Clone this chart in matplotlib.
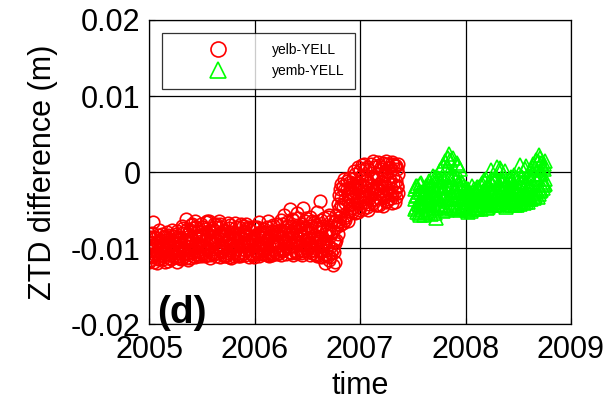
import numpy as np
import matplotlib
matplotlib.use("Agg")
import matplotlib.pyplot as plt

plt.rcParams['font.family'] = ['Liberation Sans', 'DejaVu Sans']

# yelb-YELL: epochs (decimal year) and three solutions per epoch (ZTD difference, mm)
yelb_t = [
    2005.000, 2005.012, 2005.024, 2005.036, 2005.048, 2005.060, 2005.072, 2005.084, 2005.096, 2005.108,
    2005.120, 2005.132, 2005.144, 2005.156, 2005.168, 2005.180, 2005.192, 2005.204, 2005.216, 2005.228,
    2005.240, 2005.252, 2005.264, 2005.276, 2005.288, 2005.300, 2005.312, 2005.324, 2005.336, 2005.348,
    2005.360, 2005.372, 2005.384, 2005.396, 2005.408, 2005.420, 2005.432, 2005.444, 2005.456, 2005.468,
    2005.480, 2005.492, 2005.504, 2005.516, 2005.528, 2005.540, 2005.552, 2005.564, 2005.576, 2005.588,
    2005.600, 2005.612, 2005.624, 2005.636, 2005.648, 2005.660, 2005.672, 2005.684, 2005.696, 2005.708,
    2005.720, 2005.732, 2005.744, 2005.756, 2005.768, 2005.780, 2005.792, 2005.804, 2005.816, 2005.828,
    2005.840, 2005.852, 2005.864, 2005.876, 2005.888, 2005.900, 2005.912, 2005.924, 2005.936, 2005.948,
    2005.960, 2005.972, 2005.984, 2005.996, 2006.008, 2006.020, 2006.032, 2006.044, 2006.056, 2006.068,
    2006.080, 2006.092, 2006.104, 2006.116, 2006.128, 2006.140, 2006.152, 2006.164, 2006.176, 2006.188,
    2006.200, 2006.212, 2006.224, 2006.236, 2006.248, 2006.260, 2006.272, 2006.284, 2006.296, 2006.308,
    2006.320, 2006.332, 2006.344, 2006.356, 2006.368, 2006.380, 2006.392, 2006.404, 2006.416, 2006.428,
    2006.440, 2006.452, 2006.464, 2006.476, 2006.488, 2006.500, 2006.512, 2006.524, 2006.536, 2006.548,
    2006.560, 2006.572, 2006.584, 2006.596, 2006.608, 2006.620, 2006.632, 2006.644, 2006.656, 2006.668,
    2006.680, 2006.692, 2006.704, 2006.716, 2006.728, 2006.740, 2006.752, 2006.764, 2006.776, 2006.788,
    2006.800, 2006.812, 2006.824, 2006.836, 2006.848, 2006.860, 2006.872, 2006.884, 2006.896, 2006.908,
    2006.920, 2006.932, 2006.944, 2006.956, 2006.968, 2006.980, 2006.992, 2007.004, 2007.016, 2007.028,
    2007.040, 2007.052, 2007.064, 2007.076, 2007.088, 2007.100, 2007.112, 2007.124, 2007.136, 2007.148,
    2007.160, 2007.172, 2007.184, 2007.196, 2007.208, 2007.220, 2007.232, 2007.244, 2007.256, 2007.268,
    2007.280, 2007.292, 2007.304, 2007.316, 2007.328, 2007.340, 2007.352, 2007.364,
]
yelb_a = [
    -10.4, -8.6, -11.2, -6.6, -9.8, -10.9, -9.1, -11.4, -10.2, -8.9,
    -10.7, -9.5, -11.0, -8.4, -10.1, -9.7, -11.3, -8.8, -10.5, -9.3,
    -10.9, -8.1, -9.9, -11.1, -9.0, -8.7, -10.3, -7.4, -9.6, -6.2,
    -10.8, -8.1, -9.4, -7.0, -10.5, -8.9, -6.5, -9.9, -7.8, -11.0,
    -8.3, -6.9, -9.7, -10.6, -7.5, -8.8, -6.4, -9.2, -10.9, -7.9,
    -8.6, -6.8, -10.1, -9.0, -7.3, -9.5, -6.9, -10.4, -8.2, -7.6,
    -10.9, -9.1, -6.7, -8.5, -10.2, -7.9, -9.6, -11.0, -8.0, -7.2,
    -9.8, -10.6, -8.4, -6.8, -9.3, -10.7, -7.7, -8.9, -10.1, -7.4,
    -9.4, -10.8, -8.6, -9.7, -7.3, -10.5, -8.4, -6.6, -9.9, -10.8,
    -8.0, -7.5, -10.2, -9.1, -6.4, -8.7, -10.6, -7.8, -9.4, -10.1,
    -8.2, -6.9, -9.6, -10.7, -7.6, -8.5, -10.3, -5.6, -9.2, -7.1,
    -10.0, -4.9, -8.6, -9.7, -6.3, -10.4, -7.8, -5.4, -9.2, -8.1,
    -10.6, -6.8, -4.8, -9.5, -7.4, -10.2, -8.7, -5.9, -9.9, -6.5,
    -8.3, -10.8, -7.0, -5.3, -9.1, -3.8, -8.5, -10.3, -6.1, -12.0,
    -7.7, -9.6, -5.7, -11.2, -8.0, -12.3, -6.6, -9.3, -7.2, -6.8,
    -3.0, -5.9, -1.6, -4.6, -2.4, -6.3, -1.2, -3.8, -5.1, -2.0,
    -4.2, -0.9, -3.3, -5.4, -1.5, 0.6, -3.2, -4.6, -0.4, -2.5,
    1.0, -3.9, -1.1, -5.0, 0.2, -2.8, -1.7, 1.4, -3.5, -0.7,
    -4.3, -2.1, 0.9, -1.3, -3.0, 1.2, -0.2, -4.0, -2.4, 0.5,
    -1.0, -3.4, 1.3, -0.6, -2.6, 0.8, -1.8, -0.3,
]
yelb_b = [
    -9.2, -11.6, -8.0, -10.1, -11.9, -8.7, -10.6, -9.4, -7.6, -11.3,
    -8.1, -11.4, -9.9, -10.8, -7.9, -11.7, -9.2, -10.3, -8.4, -11.1,
    -9.5, -11.2, -7.8, -8.8, -10.7, -11.5, -8.0, -10.1, -8.9, -11.3,
    -7.5, -10.2, -11.3, -8.7, -6.8, -11.1, -9.7, -7.2, -10.8, -8.4,
    -10.5, -9.1, -7.3, -8.1, -11.0, -6.6, -10.3, -7.8, -8.9, -10.7,
    -10.6, -9.3, -7.7, -11.0, -8.6, -6.5, -10.2, -8.8, -9.9, -11.1,
    -7.8, -8.2, -10.6, -11.2, -7.0, -9.3, -10.7, -8.5, -6.7, -10.1,
    -8.0, -7.3, -11.1, -9.6, -7.9, -8.2, -10.9, -6.9, -9.5, -11.2,
    -7.6, -8.9, -10.9, -7.4, -10.3, -8.1, -9.6, -11.0, -7.9, -8.6,
    -10.4, -9.3, -7.9, -10.9, -8.6, -11.1, -7.3, -9.5, -10.8, -8.2,
    -10.5, -9.1, -7.8, -8.4, -10.9, -6.8, -8.7, -10.1, -7.3, -9.8,
    -7.6, -9.3, -10.7, -6.2, -8.5, -9.0, -10.6, -7.3, -6.0, -10.2,
    -8.3, -9.6, -10.4, -7.3, -6.1, -8.8, -10.5, -9.6, -7.1, -10.7,
    -10.2, -7.3, -9.4, -11.1, -7.2, -9.7, -6.3, -9.4, -11.0, -8.1,
    -10.3, -5.9, -11.6, -8.4, -6.4, -10.1, -8.9, -11.8, -5.6, -4.2,
    -6.5, -2.3, -4.4, -6.7, -0.9, -3.5, -5.6, -2.7, -0.8, -4.4,
    -1.6, -4.8, -2.1, -0.3, -3.7, -5.3, -1.4, 0.3, -2.9, -4.9,
    -1.9, -3.1, 0.6, -2.4, -4.2, -0.6, -3.7, -2.1, 0.7, -4.4,
    -0.3, 1.3, -3.4, -2.5, 0.4, -4.5, -1.5, -2.8, 1.1, -3.6,
    -2.9, 0.2, -4.1, -1.6, 0.9, -3.3, -2.0, 1.0,
]
yelb_c = [
    -11.8, -9.9, -9.3, -11.0, -8.5, -9.6, -12.0, -8.3, -11.5, -10.0,
    -9.6, -8.6, -10.2, -11.9, -9.0, -8.3, -10.0, -11.5, -7.6, -10.6,
    -8.4, -10.0, -11.8, -8.6, -11.3, -9.9, -7.1, -11.2, -10.7, -9.1,
    -9.2, -11.6, -7.6, -10.3, -8.9, -7.4, -11.2, -8.6, -10.4, -9.5,
    -9.6, -11.1, -8.4, -7.2, -9.9, -10.9, -8.3, -6.5, -11.3, -9.0,
    -7.4, -10.8, -8.9, -6.9, -10.7, -8.1, -11.2, -7.2, -9.7, -10.0,
    -9.2, -11.0, -8.8, -7.4, -9.6, -11.3, -8.1, -9.0, -10.5, -9.8,
    -11.0, -8.7, -9.2, -10.9, -7.1, -9.4, -10.2, -8.3, -7.2, -9.6,
    -10.7, -9.1, -7.3, -11.2, -9.0, -7.2, -10.8, -9.3, -8.1, -9.4,
    -9.6, -10.8, -8.6, -7.2, -10.5, -9.8, -8.3, -10.9, -7.0, -9.0,
    -9.3, -10.8, -8.2, -9.6, -6.3, -10.4, -7.7, -8.9, -10.8, -6.6,
    -8.8, -10.5, -7.1, -8.0, -10.9, -7.4, -9.4, -10.5, -7.0, -9.6,
    -7.6, -10.9, -8.5, -6.4, -10.0, -7.7, -9.4, -10.9, -7.6, -8.9,
    -6.6, -9.2, -10.9, -8.5, -10.4, -7.5, -11.2, -7.1, -9.5, -10.8,
    -9.1, -11.0, -7.8, -9.9, -10.6, -7.7, -10.5, -6.4, -9.0, -8.2,
    -4.9, -7.0, -3.3, -1.8, -6.0, -4.1, -2.2, -6.4, -3.1, -1.3,
    -5.2, -2.7, 0.1, -1.9, -4.1, -2.2, -5.0, -1.8, 0.9, -3.6,
    -3.3, 0.4, -4.6, -1.5, -2.7, 1.1, -2.2, -4.1, -0.9, -2.3,
    -2.2, -0.8, -4.4, 0.6, -1.9, -3.1, -0.5, 1.4, -3.8, -1.4,
    0.6, -2.1, -3.0, 1.1, -4.0, -1.2, 0.4, -2.7,
]

# yemb-YELL
yemb_t = [
    2007.520, 2007.532, 2007.544, 2007.556, 2007.568, 2007.580, 2007.592, 2007.604, 2007.616, 2007.628,
    2007.640, 2007.652, 2007.664, 2007.676, 2007.688, 2007.700, 2007.712, 2007.724, 2007.736, 2007.748,
    2007.760, 2007.772, 2007.784, 2007.796, 2007.808, 2007.820, 2007.832, 2007.844, 2007.856, 2007.868,
    2007.880, 2007.892, 2007.904, 2007.916, 2007.928, 2007.940, 2007.952, 2007.964, 2007.976, 2007.988,
    2008.000, 2008.012, 2008.024, 2008.036, 2008.048, 2008.060, 2008.072, 2008.084, 2008.096, 2008.108,
    2008.120, 2008.132, 2008.144, 2008.156, 2008.168, 2008.180, 2008.192, 2008.204, 2008.216, 2008.228,
    2008.240, 2008.252, 2008.264, 2008.276, 2008.288, 2008.300, 2008.312, 2008.324, 2008.336, 2008.348,
    2008.360, 2008.372, 2008.384, 2008.396, 2008.408, 2008.420, 2008.432, 2008.444, 2008.456, 2008.468,
    2008.480, 2008.492, 2008.504, 2008.516, 2008.528, 2008.540, 2008.552, 2008.564, 2008.576, 2008.588,
    2008.600, 2008.612, 2008.624, 2008.636, 2008.648, 2008.660, 2008.672, 2008.684, 2008.696, 2008.708,
    2008.720, 2008.732, 2008.744, 2008.756,
]
yemb_a = [
    -3.5, -1.8, -5.2, -2.6, -4.4, -1.5, -3.9, -5.6, -2.2, -4.8,
    -3.1, -1.2, -5.0, -2.7, -0.5, -4.2, -3.4, -6.1, -1.9, -4.6,
    0.2, -2.9, -5.1, -1.0, 1.5, -3.6, -0.3, 2.4, -4.3, -1.6,
    1.8, -2.4, -4.7, -0.8, 0.9, -3.2, -5.0, -1.4, -2.8, -4.4,
    -2.1, -3.7, -5.3, -2.6, -4.1, -1.9, -3.3, -4.9, -2.4, -3.8,
    -4.7, -2.2, -3.5, -1.4, -4.2, -2.9, -0.9, -3.8, -2.0, -4.0,
    0.3, -2.5, -3.9, -1.1, -3.0, 0.7, -4.2, -2.0, -1.2, -3.6,
    -2.4, 0.1, -3.8, -1.6, -4.1, -2.7, -0.6, -3.3, -1.9, -4.3,
    -0.8, -2.8, -3.9, 0.9, -1.5, -3.4, -2.2, 0.4, -4.0, -1.8,
    -2.9, -0.5, -3.6, 1.0, -1.7, -3.2, 1.6, -0.9, 2.2, -2.5,
    1.2, -1.3, 0.4, -0.9,
]
yemb_b = [
    -2.2, -4.6, -3.0, -5.4, -1.6, -3.8, -5.0, -2.5, -4.1, -3.3,
    -5.3, -3.7, -2.0, -4.4, -3.1, -1.4, -5.4, -2.3, -0.8, -3.5,
    -3.8, -1.2, -2.1, -4.5, -2.8, 0.6, -4.7, -1.9, 1.6, -3.0,
    -3.6, -0.5, -2.0, -4.9, -3.5, -1.6, 0.4, -3.9, -4.8, -1.9,
    -4.6, -2.8, -2.3, -4.8, -3.0, -4.4, -2.6, -3.7, -4.6, -2.0,
    -3.1, -4.4, -1.7, -3.9, -2.5, -4.4, -3.4, -1.8, -4.6, -1.2,
    -2.8, -4.1, -0.9, -3.5, -2.2, -4.4, -1.6, -3.3, 0.2, -2.4,
    -3.9, -1.8, -2.6, -4.0, -0.9, -3.6, -2.2, -4.4, -0.4, -2.8,
    -3.6, -1.3, -2.4, -4.2, -2.9, -0.7, -3.7, -2.9, 0.8, -3.2,
    -1.6, -3.3, -2.0, -0.2, -3.4, 0.5, -2.3, 1.4, -2.9, -0.3,
    -2.4, 0.6, -1.7, 1.5,
]
yemb_c = [
    -4.9, -3.2, -1.9, -4.2, -5.7, -2.6, -4.5, -3.0, -5.2, -1.9,
    -1.7, -4.1, -3.3, -5.5, -1.8, -3.0, -0.6, -4.8, -3.2, -1.0,
    -1.8, -4.4, 0.9, -3.3, -2.0, -5.0, 1.9, -3.4, -0.6, -4.8,
    -0.4, -4.1, -2.5, 1.2, -4.6, -2.2, -0.9, -4.5, -3.4, -2.5,
    -3.4, -5.0, -4.0, -3.2, -5.1, -3.6, -4.8, -2.3, -3.5, -4.9,
    -2.0, -3.8, -4.9, -2.9, -3.3, -1.0, -2.6, -4.8, -3.1, -2.6,
    -4.3, -1.4, -2.7, -4.4, -0.6, -3.1, -2.5, 0.5, -3.9, -1.5,
    -1.1, -3.5, -4.6, -2.9, -2.0, -4.3, -3.7, -1.2, -3.4, -2.1,
    -2.5, -4.3, -0.2, -3.0, -3.8, -1.4, -4.1, -1.6, -2.7, -3.9,
    -3.5, -2.1, 0.3, -2.8, -0.4, -2.6, -0.8, -3.3, 0.7, 1.9,
    -0.3, -2.1, 1.0, -1.6,
]

x_ticks = [2005, 2006, 2007, 2008, 2009]
y_ticks = [-0.02, -0.01, 0, 0.01, 0.02]
y_ticklabels = ['-0.02', '-0.01', '0', '0.01', '0.02']

fig = plt.figure(figsize=(6.09, 4.04), dpi=100)
ax = fig.add_axes([0.2447, 0.198, 0.6929, 0.7525])

red_style = dict(mfc='none', mec='#ff0000', ms=9, mew=1.2, ls='none', marker='o')
green_style = dict(mfc='none', mec='#00ff00', ms=10, mew=1.2, ls='none', marker='^')

ax.plot(yelb_t, np.array(yelb_a) / 1000, label='yelb-YELL', **red_style)
ax.plot(yelb_t, np.array(yelb_b) / 1000, **red_style)
ax.plot(yelb_t, np.array(yelb_c) / 1000, **red_style)
ax.plot(yemb_t, np.array(yemb_a) / 1000, label='yemb-YELL', **green_style)
ax.plot(yemb_t, np.array(yemb_b) / 1000, **green_style)
ax.plot(yemb_t, np.array(yemb_c) / 1000, **green_style)

ax.set_xlim(2005, 2009)
ax.set_ylim(-0.02, 0.02)
ax.set_xticks(x_ticks)
ax.set_yticks(y_ticks)
ax.set_yticklabels(y_ticklabels)
ax.tick_params(direction='in', labelsize=22, length=4)
ax.tick_params(axis='x', pad=8)
ax.tick_params(axis='y', pad=6)
ax.grid(True, color='black', linewidth=0.9)
ax.set_axisbelow(True)
for s in ax.spines.values():
    s.set_linewidth(0.9)

ax.set_xlabel('time', fontsize=22, labelpad=4)
ax.set_ylabel('ZTD difference (m)', fontsize=22, labelpad=9)

ax.text(2005.075, -0.01987, '(d)', fontsize=28, fontweight='bold',
        ha='left', va='baseline', clip_on=False)

leg = ax.legend(loc='upper left', bbox_to_anchor=(0.03, 0.958), fontsize=10,
                frameon=True, fancybox=False, edgecolor='black',
                borderpad=0.75, handlelength=6.6, handletextpad=0.6,
                labelspacing=0.5, borderaxespad=0, markerscale=1.2)
leg.get_frame().set_linewidth(0.9)

fig.savefig('out.png', dpi=100)
